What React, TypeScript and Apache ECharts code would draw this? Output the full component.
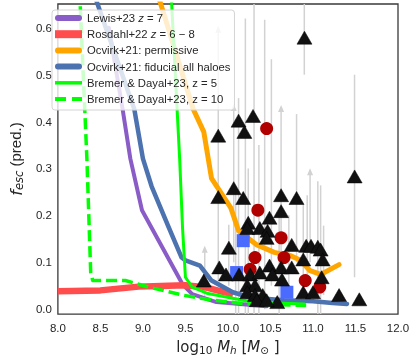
import React, { useEffect, useRef } from 'react';
import * as echarts from 'echarts';

// ---- model curves ----
const lewisX = [8.6, 8.76, 8.852, 8.989, 9.466, 9.58, 9.864, 10.455];
const lewisY = [0.6, 0.428, 0.321, 0.211, 0.053, 0.032, 0.015, 0.006];

const rosdahlX = [8.0, 8.5, 8.95, 9.3, 9.5, 9.75, 10.0, 10.06];
const rosdahlY = [0.038, 0.04, 0.048, 0.05, 0.051, 0.046, 0.034, 0.032];

const permX = [9.16, 9.591, 9.716, 9.807, 10.034, 10.125, 10.341, 10.545, 10.739, 10.852, 10.966, 11.09, 11.307];
const permY = [0.68, 0.427, 0.378, 0.279, 0.216, 0.167, 0.137, 0.121, 0.114, 0.104, 0.082, 0.074, 0.095];

const fidX = [8.41, 8.898, 9.0, 9.102, 9.295, 9.455, 9.5, 9.67, 9.807, 10.057, 10.26, 10.66, 11.0, 11.23, 11.4];
const fidY = [0.68, 0.427, 0.321, 0.262, 0.178, 0.11, 0.104, 0.093, 0.061, 0.036, 0.025, 0.019, 0.017, 0.013, 0.011];

const bd5X = [9.33, 9.432, 9.466, 9.5, 9.58, 9.75, 10.24, 10.55, 10.9];
const bd5Y = [0.68, 0.321, 0.173, 0.068, 0.047, 0.034, 0.017, 0.013, 0.011];

const bd10X = [8.255, 8.341, 8.386, 8.41, 8.795, 9.068, 9.466, 9.75, 10.205, 10.92];
const bd10Y = [0.68, 0.321, 0.078, 0.061, 0.061, 0.047, 0.03, 0.021, 0.011, 0.008];

// ---- observed galaxies ----
const triX = [10.9, 11.49, 9.886, 10.125, 10.193, 10.295, 10.068, 9.886, 10.18, 10.625, 10.807, 10.625, 10.489, 10.239, 10.227, 10.375, 10.466, 10.455, 10.75, 10.011, 10.92, 10.977, 11.057, 11.09, 10.886, 11.114, 9.898, 9.977, 10.13, 10.261, 10.375, 10.489, 10.625, 10.75, 10.523, 10.636, 9.716, 10.227, 10.318, 10.227, 10.318, 10.409, 10.886, 11.0, 10.58, 10.34, 11.102, 11.307, 11.545, 10.455];
const triY = [0.579, 0.283, 0.37, 0.402, 0.378, 0.412, 0.258, 0.239, 0.237, 0.243, 0.237, 0.209, 0.195, 0.184, 0.173, 0.173, 0.167, 0.152, 0.137, 0.131, 0.135, 0.135, 0.133, 0.127, 0.106, 0.106, 0.089, 0.074, 0.074, 0.074, 0.078, 0.093, 0.089, 0.089, 0.074, 0.063, 0.061, 0.051, 0.051, 0.036, 0.03, 0.03, 0.036, 0.036, 0.015, 0.019, 0.068, 0.03, 0.021, 0.019];

const circX = [10.455, 10.352, 10.625, 10.318, 10.659, 10.261, 10.909, 11.08];
const circY = [0.385, 0.211, 0.152, 0.11, 0.11, 0.085, 0.061, 0.047];

const sqX = [10.18, 10.102, 10.693];
const sqY = [0.146, 0.078, 0.036];

// ---- error bars (x, low, high, upper-limit arrow) ----
const errX = [9.886, 10.068, 10.125, 10.205, 10.307, 10.432, 10.511, 10.625, 10.807, 10.898, 10.886, 10.932, 10.966, 11.057, 11.09, 11.125, 11.489, 9.727, 10.239, 10.364, 10.602, 10.716, 10.091, 10.01];
const errLo = [0.06, 0.1, -0.02, -0.02, -0.02, 0.0, 0.05, 0.05, 0.1, 0.5, 0.04, 0.05, 0.1, -0.02, -0.02, 0.03, 0.068, 0.02, -0.02, -0.02, -0.02, 0.05, -0.02, 0.05];
const errHi = [0.6, 0.433, 0.45, 0.62, 0.7, 0.617, 0.533, 0.431, 0.416, 0.7, 0.222, 0.243, 0.296, 0.273, 0.264, 0.178, 0.5, 0.131, 0.3, 0.35, 0.2, 0.2, 0.25, 0.18];
const errArrow = [1, 1, 0, 0, 0, 0, 0, 1, 0, 0, 0, 0, 1, 0, 0, 0, 0, 1, 0, 0, 0, 0, 0, 0];

const xTicks = [8, 12, 0.5];
const yTickValues = [0, 0.1, 0.2, 0.3, 0.4, 0.5, 0.6];

const N_LEWIS = 'Lewis+23 z = 7';
const N_ROS = 'Rosdahl+22 z = 6 − 8';
const N_PERM = 'Ocvirk+21: permissive';
const N_FID = 'Ocvirk+21: fiducial all haloes';
const N_BD5 = 'Bremer & Dayal+23, z = 5';
const N_BD10 = 'Bremer & Dayal+23, z = 10';

const zip = (xs: number[], ys: number[]) => xs.map((x, i) => [x, ys[i]]);

const SANS = 'Liberation Sans, Arial, sans-serif';
const MATH = 'DejaVu Sans, sans-serif';
const TXT = '#262626';

// legend icons (27 x 12 boxes; the lone moves fix the bounding box)
const BOX = 'path://M0,0 M27,12 ';
const ICON_THICK = BOX + 'M3,3 L24,3 A3,3 0 0 1 24,9 L3,9 A3,3 0 0 1 3,3 Z';
const ICON_RECT = BOX + 'M0,2 L27,2 L27,10 L0,10 Z';
const ICON_THIN = BOX + 'M0,4.25 L27,4.25 L27,7.75 L0,7.75 Z';
const ICON_DASH = BOX + 'M0,4 L11,4 L11,8 L0,8 Z M17,4 L27,4 L27,8 L17,8 Z';

export default function App() {
  const ref = useRef<HTMLDivElement>(null);
  useEffect(() => {
    if (!ref.current) return;
    const chart = echarts.init(ref.current, undefined, { renderer: 'svg' });

    const lineSeries = (name: string, xs: number[], ys: number[], color: string, width: number, extra: any = {}) => ({
      name,
      type: 'line',
      data: zip(xs, ys),
      symbol: 'none',
      showSymbol: false,
      clip: true,
      lineStyle: { color, width, cap: 'round', join: 'round', ...extra },
      itemStyle: { color },
      z: 2,
    });

    const legendFormatter = (name: string) => {
      if (name === N_LEWIS) return '{t|Lewis+23 }{i|z}{t| = 7}';
      if (name === N_ROS) return '{t|Rosdahl+22 }{i|z}{t| = 6 − 8}';
      return '{t|' + name + '}';
    };

    const option: any = {
      animation: false,
      grid: {
        left: 46, right: 17, top: 4, bottom: 43,
        show: true, borderColor: '#3a3a3a', borderWidth: 1.3, backgroundColor: '#fff',
      },
      legend: {
        orient: 'vertical',
        left: 52,
        top: 10,
        padding: [2, 4, 5, 3],
        itemGap: 4.2,
        itemWidth: 27,
        itemHeight: 12,
        backgroundColor: 'rgba(255,255,255,0.8)',
        borderColor: '#d4d4d4',
        borderWidth: 1,
        borderRadius: 3,
        selectedMode: false,
        formatter: legendFormatter,
        itemStyle: { borderWidth: 0 },
        textStyle: {
          fontFamily: SANS, fontSize: 11.3, color: TXT,
          rich: {
            t: { fontFamily: SANS, fontSize: 11.3, color: TXT },
            i: { fontFamily: SANS, fontSize: 11.3, color: TXT, fontStyle: 'italic' },
          },
        },
        data: [
          { name: N_LEWIS, icon: ICON_THICK },
          { name: N_ROS, icon: ICON_RECT },
          { name: N_PERM, icon: ICON_THICK },
          { name: N_FID, icon: ICON_THICK },
          { name: N_BD5, icon: ICON_THIN },
          { name: N_BD10, icon: ICON_DASH },
        ],
      },
      xAxis: {
        type: 'value',
        min: xTicks[0],
        max: xTicks[1],
        interval: xTicks[2],
        axisLine: { show: false },
        axisTick: { show: false },
        splitLine: { show: false },
        axisLabel: {
          formatter: (v: number) => v.toFixed(1),
          fontFamily: SANS, fontSize: 11.5, color: TXT, margin: 8,
        },
        name: '{n|log}{u|10}{n| }{i|M}{s|h}{n| [}{i|M}{u|⊙}{n| ]}',
        nameLocation: 'middle',
        nameGap: 15,
        nameTextStyle: {
          rich: {
            n: { fontFamily: MATH, fontSize: 15, color: TXT, lineHeight: 16, verticalAlign: 'top' },
            i: { fontFamily: MATH, fontSize: 15, color: TXT, fontStyle: 'italic', lineHeight: 16, verticalAlign: 'top' },
            s: { fontFamily: MATH, fontSize: 10.5, color: TXT, fontStyle: 'italic', lineHeight: 5, verticalAlign: 'bottom' },
            u: { fontFamily: MATH, fontSize: 10.5, color: TXT, lineHeight: 5, verticalAlign: 'bottom' },
          },
        },
      },
      yAxis: {
        type: 'value',
        min: -0.0106,
        max: 0.6508,
        axisLine: { show: false },
        axisTick: { show: false },
        splitLine: { show: false },
        axisLabel: {
          customValues: yTickValues,
          formatter: (v: number) => v.toFixed(1),
          fontFamily: SANS, fontSize: 11.5, color: TXT, margin: 6,
        },
        name: '{f|f}{s|esc}{n| (pred.)}',
        nameLocation: 'middle',
        nameGap: 25,
        nameTextStyle: {
          rich: {
            f: { fontFamily: MATH, fontSize: 16, color: TXT, fontStyle: 'italic', lineHeight: 17, verticalAlign: 'top' },
            n: { fontFamily: SANS, fontSize: 15, color: TXT, lineHeight: 17, verticalAlign: 'top' },
            s: { fontFamily: MATH, fontSize: 11.5, color: TXT, fontStyle: 'italic', lineHeight: 6, verticalAlign: 'bottom' },
          },
        },
      },
      series: [
        {
          type: 'custom',
          name: 'errors',
          clip: true,
          z: 1,
          encode: { x: 0, y: [1, 2] },
          data: errX.map((x, i) => [x, errLo[i], errHi[i], errArrow[i]]),
          renderItem: (params: any, api: any) => {
            const x = api.value(0);
            const p1 = api.coord([x, api.value(1)]);
            const p2 = api.coord([x, api.value(2)]);
            const children: any[] = [
              { type: 'line', shape: { x1: p1[0], y1: p1[1], x2: p2[0], y2: p2[1] }, style: { stroke: '#d2d2d2', lineWidth: 1.5 } },
            ];
            if (api.value(3)) {
              children.push({
                type: 'polygon',
                shape: { points: [[p2[0], p2[1] - 2], [p2[0] - 3, p2[1] + 5], [p2[0] + 3, p2[1] + 5]] },
                style: { fill: '#d2d2d2' },
              });
            }
            return { type: 'group', children };
          },
        },
        lineSeries(N_LEWIS, lewisX, lewisY, '#8a5cc7', 4),
        lineSeries(N_ROS, rosdahlX, rosdahlY, '#ff4d4d', 6.5, { cap: 'butt' }),
        lineSeries(N_PERM, permX, permY, '#ffa500', 5),
        lineSeries(N_FID, fidX, fidY, '#4c72b0', 4.5),
        lineSeries(N_BD5, bd5X, bd5Y, '#00ff00', 3),
        lineSeries(N_BD10, bd10X, bd10Y, '#00ff00', 3.5, { type: [11, 5], cap: 'butt' }),
        {
          type: 'scatter', name: 'triangles', data: zip(triX, triY), symbol: 'triangle', symbolSize: [15, 13],
          itemStyle: { color: '#111111', borderColor: '#000', borderWidth: 0.5, opacity: 1 }, z: 5,
        },
        {
          type: 'scatter', name: 'circles', data: zip(circX, circY), symbol: 'circle', symbolSize: 13,
          itemStyle: { color: '#b00000', opacity: 1 }, z: 4,
        },
        {
          type: 'scatter', name: 'squares', data: zip(sqX, sqY), symbol: 'rect', symbolSize: 13,
          itemStyle: { color: '#4b6bff', opacity: 1 }, z: 4,
        },
      ],
    };
    chart.setOption(option);
    return () => chart.dispose();
  }, []);
  return <div ref={ref} style={{ position: 'fixed', left: 0, top: 0, width: 415, height: 360 }} />;
}
